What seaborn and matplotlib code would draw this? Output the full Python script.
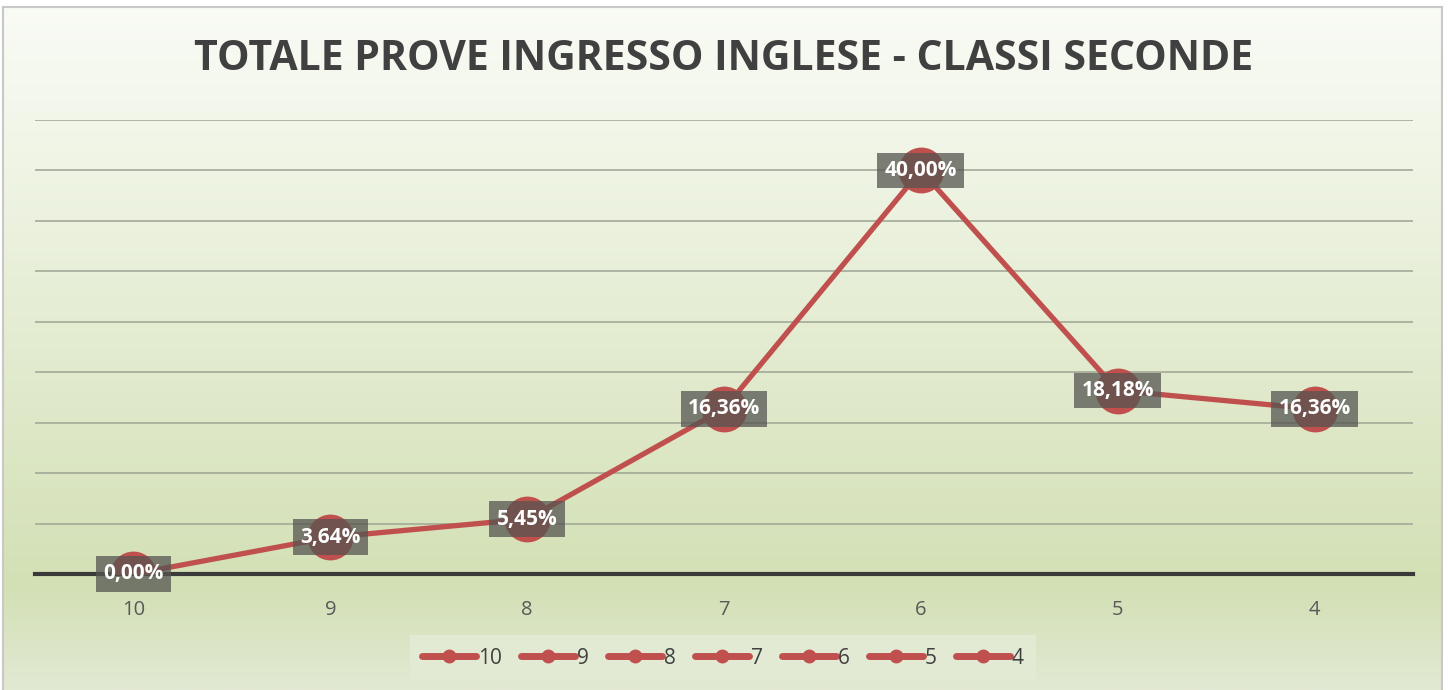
import numpy as np
import pandas as pd
import matplotlib
matplotlib.use("Agg")
import matplotlib.pyplot as plt
from matplotlib.lines import Line2D
from matplotlib.colors import LinearSegmentedColormap
import seaborn as sns

# ---- data ----
categories = ["10", "9", "8", "7", "6", "5", "4"]
values = [0.00, 3.64, 5.45, 16.36, 40.00, 18.18, 16.36]
value_labels = ["0,00%", "3,64%", "5,45%", "16,36%", "40,00%", "18,18%", "16,36%"]
title = "TOTALE PROVE INGRESSO INGLESE - CLASSI SECONDE"

sns.set_style("white")
plt.rcParams["font.family"] = ["Open Sans", "DejaVu Sans"]

W, H = 1448, 690
fig = plt.figure(figsize=(W / 100, H / 100), dpi=100)
fig.patch.set_facecolor("white")

# background gradient chart area
bg = fig.add_axes([3 / W, 0, (1442 - 3) / W, (H - 7) / H])
cmap = LinearSegmentedColormap.from_list(
    "g",
    [(0.0, (249 / 255, 251 / 255, 245 / 255)),
     (0.15, (243 / 255, 247 / 255, 235 / 255)),
     (0.85, (211 / 255, 224 / 255, 181 / 255)),
     (1.0, (226 / 255, 233 / 255, 211 / 255))])
grad = np.linspace(0, 1, 256).reshape(-1, 1)
bg.imshow(grad, aspect="auto", cmap=cmap, extent=[0, 1, 0, 1], origin="upper")
bg.set_xticks([])
bg.set_yticks([])
for s in bg.spines.values():
    s.set_color("#c8c8c8")
    s.set_linewidth(1.5)
bg.spines["bottom"].set_visible(False)

ax = fig.add_axes([35 / W, (H - 574) / H, (1413 - 35) / W, (574 - 120) / H])
ax.patch.set_alpha(0)

df = pd.DataFrame({"cat": categories, "val": values})
sns.lineplot(data=df, x="cat", y="val", sort=False, ax=ax, color="#c0504d",
             linewidth=3.8, marker="o", markersize=33, markeredgewidth=0,
             zorder=3)

ax.set_xlim(-0.5, len(categories) - 0.5)
ax.set_ylim(0, 45)
ax.set_yticks(np.arange(5, 46, 5))
ax.set_yticklabels([])
ax.tick_params(axis="y", length=0)
ax.yaxis.grid(True, color="#a2aa98", linewidth=1.2)
ax.set_axisbelow(True)
ax.set_xlabel("")
ax.set_ylabel("")
for s in ["top", "right", "left"]:
    ax.spines[s].set_visible(False)
ax.spines["bottom"].set_color("#3a3a3a")
ax.spines["bottom"].set_linewidth(3)
ax.spines["bottom"].set_zorder(2)
ax.tick_params(axis="x", length=0, pad=19, labelsize=14.5, labelcolor="#595959")

for i, (v, lab) in enumerate(zip(values, value_labels)):
    ax.text(i, v, lab, ha="center", va="center", color="white",
            fontsize=15, fontweight="bold", zorder=5,
            bbox=dict(boxstyle="square,pad=0.35", facecolor="#555550",
                      alpha=0.75, edgecolor="none"))

fig.text(0.5, (H - 60) / H, title, ha="center", va="center",
         fontsize=29.5, fontweight="bold", color="#404040")

handles = [Line2D([0], [0], color="#c0504d", linewidth=5, marker="o",
                  markersize=9, solid_capstyle="round") for _ in categories]
leg = fig.legend(handles, categories, loc="center", ncol=len(categories),
                 bbox_to_anchor=(723 / W, 32 / H), frameon=True,
                 fontsize=15, handlelength=2.6, columnspacing=0.9,
                 handletextpad=0.1, borderpad=0.6, fancybox=False)
leg.get_frame().set_facecolor((226 / 255, 234 / 255, 211 / 255))
leg.get_frame().set_edgecolor("none")
leg.get_frame().set_alpha(1)
for t in leg.get_texts():
    t.set_color("#404040")

fig.savefig("out.png", dpi=100)
